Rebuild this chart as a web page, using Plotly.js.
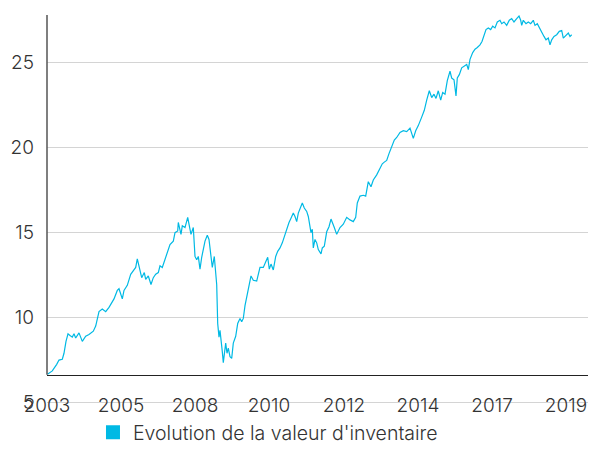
<!DOCTYPE html>
<html>
<head>
<meta charset="utf-8">
<script src="https://cdn.plot.ly/plotly-3.0.1.min.js"></script>
<style>html,body{margin:0;padding:0;background:#fff;}#chart{width:597px;height:461px;}</style>
</head>
<body>
<div id="chart"></div>
<script>
// observation index (position along the series) and net asset value
const obsIndex = [0.5,5.3,9.7,12,15.3,17,19,21,23,25.3,27,28.7,32,35.3,38.7,42,46.3,48.7,52,55.3,58.7,62,67,70.3,72,75.3,77,80.3,83.7,86.3,88.7,90.3,93,94.7,97.3,98.7,101.3,104,106.3,108.7,111.3,113,115.3,118,120.7,123,126.3,128,130.7,131.3,134,135.3,138,140.7,142,144,146.3,148,149.7,151.3,153,154.7,158,160.3,162,164,165.3,167.3,168.7,169.7,170.7,172,173,174,175.3,176.3,177.3,178.7,180,181.3,183,184.7,186.3,188.7,190.7,193,194.7,196.3,198,199.7,202,204,206.3,209.7,211.3,213,216.3,218.7,220.7,222.3,224,226.3,228.7,230.7,233,235.3,237.3,239.7,242,244,246.3,248,249.7,251.3,254,255.3,257.3,259.7,261.3,263,264,265.3,266.3,268,269.7,271.3,273,274,275.3,277.3,279.7,282,284,285.3,287.3,289.7,293,296.3,299.7,303,306.3,308.7,310.3,313,316.3,318.7,321.3,324,326.3,329.7,333,335.3,337.3,339.7,342,344.7,347.3,349.7,353,356.3,359.7,363,366.3,368.7,371.3,374.7,377.3,379.7,382.3,384.7,387,389,391.3,393.7,395.7,398,400.3,403,404.7,407,409,410.3,412.3,414.7,417,419.7,421.3,423,425.7,428,430.3,433,435,437,439,441.3,443.7,445.7,448,450.3,453,454.7,457,459.7,462.3,464.7,467,469.7,472,473.7,474.7,476.3,479,481.3,483.7,486.3,488,490.3,492.3,494.7,497,499,501.3,503,504.7,507,509.7,512.3,514.7,516.3,519,521.3,523,524.7];
const navValues = [6.67,6.86,7.25,7.5,7.55,7.9,8.6,9.05,8.95,8.85,9.05,8.8,9.1,8.6,8.9,9.0,9.2,9.5,10.35,10.5,10.35,10.6,11.1,11.6,11.7,11.1,11.6,11.9,12.55,12.75,12.95,13.45,12.85,12.35,12.65,12.25,12.45,11.95,12.35,12.55,12.65,13.05,12.95,13.45,13.85,14.3,14.5,15.0,15.1,15.6,14.9,15.4,15.3,15.9,15.5,14.9,15.3,13.6,13.4,13.6,12.85,13.55,14.5,14.85,14.6,13.35,12.95,13.6,12.85,11.95,9.65,8.85,9.25,8.5,8.0,7.35,7.9,8.5,7.9,8.2,7.7,7.6,8.5,8.9,9.65,9.95,9.75,9.95,10.7,11.2,11.8,12.45,12.2,12.15,12.55,12.95,12.95,13.25,13.55,12.85,13.15,12.8,13.6,13.9,14.1,14.4,14.8,15.2,15.6,15.85,16.15,15.95,15.65,16.15,16.55,16.75,16.45,16.25,15.95,15.3,15.0,15.2,14.1,14.6,14.4,14.0,13.8,13.75,14.1,14.2,15.05,15.35,15.8,15.55,15.3,14.9,15.3,15.5,15.9,15.75,15.65,15.9,16.75,17.15,17.2,17.15,18.0,17.7,18.1,18.4,18.8,19.05,19.15,19.25,19.65,20.05,20.45,20.6,20.9,21.0,20.95,21.15,20.55,21.0,21.3,21.8,22.2,22.8,23.35,22.95,23.15,22.9,23.35,22.8,23.25,23.15,23.95,24.5,24.1,24.0,23.05,24.1,24.3,24.7,24.8,24.9,24.6,25.2,25.6,25.8,25.9,26.05,26.25,26.55,26.95,27.05,26.95,27.15,27.05,27.4,27.5,27.3,27.4,27.2,27.5,27.6,27.4,27.6,27.75,27.5,27.2,27.5,27.3,27.4,27.3,27.5,27.2,27.3,27.05,26.85,26.55,26.35,26.45,26.05,26.35,26.55,26.65,26.85,26.9,26.45,26.65,26.75,26.55,26.65];
const tickIndex = [0,74,148,222,297,371,445,519];
const tickLabels = ['2003','2005','2008','2010','2012','2014','2017','2019'];
const seriesName = "Evolution de la valeur d'inventaire";

const cyan = '#00B9E4';
const fontFamily = 'Inter, Lato, "Open Sans", sans-serif';
const axisFont = {family: fontFamily, size: 19, color: '#333', weight: 300};

const yMin = 4.62, yMax = 27.81, xAxisValue = 6.64;
const xPos = (xAxisValue - yMin) / (yMax - yMin);

const traces = [
  {type: 'scatter', mode: 'lines', x: obsIndex, y: navValues,
   line: {color: cyan, width: 1.2}, showlegend: false, hoverinfo: 'skip'},
  {type: 'scatter', mode: 'markers', x: [null], y: [null], name: seriesName,
   marker: {color: cyan, symbol: 'square', size: 14}, showlegend: true}
];

const layout = {
  width: 597, height: 461,
  margin: {l: 47, r: 9, t: 15, b: 48},
  paper_bgcolor: '#fff', plot_bgcolor: '#fff',
  font: axisFont,
  xaxis: {range: [0, 541], tickmode: 'array', tickvals: tickIndex, ticktext: tickLabels,
          showgrid: false, zeroline: false, anchor: 'free', position: xPos,
          showline: true, linecolor: '#222', linewidth: 1.5, ticks: '',
          ticklabelstandoff: 13, tickfont: axisFont},
  yaxis: {range: [yMin, yMax], tick0: 0, dtick: 5, showgrid: true, gridcolor: '#d4d4d4',
          gridwidth: 1, zeroline: false, showline: false, ticks: '',
          ticklabelstandoff: 12, tickfont: axisFont},
  shapes: [{type: 'line', xref: 'paper', yref: 'paper', x0: 0, x1: 0, y0: xPos, y1: 1,
            line: {color: '#555', width: 1.5}}],
  legend: {orientation: 'h', x: 0.085, xanchor: 'left', y: -0.06, yanchor: 'middle',
           font: {family: fontFamily, size: 19.5, color: '#333', weight: 300},
           itemsizing: 'trace'},
  showlegend: true
};

Plotly.newPlot('chart', traces, layout, {staticPlot: true, displayModeBar: false});
</script>
</body>
</html>
